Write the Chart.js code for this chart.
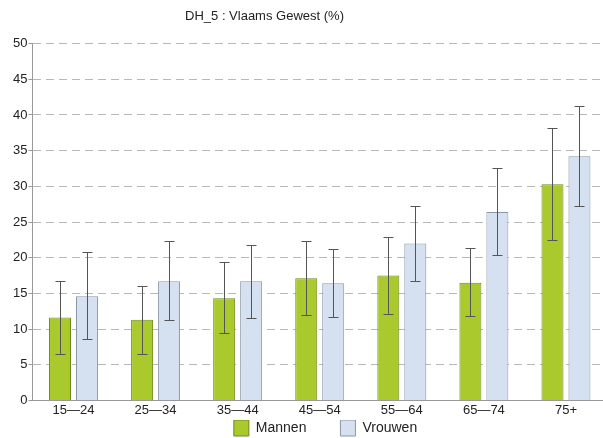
<!DOCTYPE html>
<html>
<head>
<meta charset="utf-8">
<script src="https://cdn.jsdelivr.net/npm/chart.js@4"></script>
<style>
  html, body { margin: 0; padding: 0; background: #fff; }
  #wrap { width: 603px; height: 438px; }
</style>
</head>
<body>
<div id="wrap"><canvas id="dhChart" width="603" height="438"></canvas></div>
<script>
// ===== DATA =====
const ageGroups = ['15\u201424', '25\u201434', '35\u201444', '45\u201454', '55\u201464', '65\u201474', '75+'];
const mannen = [11.6, 11.3, 14.3, 17.1, 17.5, 16.5, 30.3];
const mannenLow = [6.5, 6.5, 9.4, 11.9, 12.1, 11.8, 22.5];
const mannenHigh = [16.7, 16.1, 19.4, 22.3, 22.9, 21.4, 38.2];
const vrouwen = [14.6, 16.7, 16.7, 16.4, 22.0, 26.4, 34.2];
const vrouwenLow = [8.6, 11.2, 11.6, 11.7, 16.7, 20.4, 27.3];
const vrouwenHigh = [20.8, 22.3, 21.8, 21.2, 27.2, 32.5, 41.2];
const yTicks = [0, 5, 10, 15, 20, 25, 30, 35, 40, 45, 50];

const LEGEND_GAP = 34;

// ===== ERROR BARS =====
const errorBars = {
  id: 'errorBars',
  afterDatasetsDraw(chart) {
    const ctx = chart.ctx;
    const y = chart.scales.y;
    chart.data.datasets.forEach((ds, i) => {
      const meta = chart.getDatasetMeta(i);
      meta.data.forEach((bar, j) => {
        const top = Math.round(y.getPixelForValue(ds.high[j])) + 0.5;
        const bot = Math.round(y.getPixelForValue(ds.low[j])) + 0.5;
        const x = Math.round(bar.x) + 0.5;
        ctx.save();
        ctx.strokeStyle = '#555';
        ctx.lineWidth = 1;
        ctx.beginPath();
        ctx.moveTo(x, top); ctx.lineTo(x, bot);
        ctx.moveTo(x - 5, top); ctx.lineTo(x + 5, top);
        ctx.moveTo(x - 5, bot); ctx.lineTo(x + 5, bot);
        ctx.stroke();
        ctx.restore();
      });
    });
  }
};

// title sits left of centre, legend a bit right; plot runs a little past the right edge
const nudgeBlocks = {
  id: 'nudgeBlocks',
  afterLayout(chart) {
    const t = chart.titleBlock;
    if (t) { t.left -= 43; t.right -= 43; }
    const l = chart.legend;
    if (l) { l.left += 18; l.right += 18; }
    const x = chart.scales.x;
    x.right += 4;
    x.width += 4;
    chart.chartArea.right += 4;
    chart.chartArea.width += 4;
    x.configure();
  }
};

// ===== CHART =====
const chartCtx = document.getElementById('dhChart');
new Chart(chartCtx, {
  type: 'bar',
  data: {
    labels: ageGroups,
    datasets: [{
      label: 'Mannen',
      data: mannen,
      low: mannenLow,
      high: mannenHigh,
      backgroundColor: '#a9c92c',
      borderColor: '#6f8a1c',
      borderWidth: 1
    }, {
      label: 'Vrouwen',
      data: vrouwen,
      low: vrouwenLow,
      high: vrouwenHigh,
      backgroundColor: '#d5e1f1',
      borderColor: '#8a97a6',
      borderWidth: 1
    }]
  },
  options: {
    responsive: false,
    animation: false,
    categoryPercentage: 0.657,
    barPercentage: 0.815,
    layout: { padding: { left: 12, right: 0, top: 0, bottom: -8 } },
    scales: {
      x: {
        grid: { display: false, drawTicks: false },
        border: { display: true, color: '#999' },
        ticks: { color: '#222', font: { family: 'Liberation Sans', size: 13 }, padding: 2 }
      },
      y: {
        min: 0,
        max: 50,
        afterBuildTicks: (axis) => { axis.ticks = yTicks.map(v => ({ value: v })); },
        grid: { color: '#b8b8b8', tickColor: '#999', tickLength: 4, tickBorderDash: [] },
        border: { display: true, color: '#999', dash: [8, 5] },
        ticks: { color: '#222', font: { family: 'Liberation Sans', size: 13 }, padding: 1 }
      }
    },
    plugins: {
      title: {
        display: true,
        text: 'DH_5 : Vlaams Gewest (%)',
        color: '#222',
        font: { family: 'Liberation Sans', size: 13, weight: 'normal' },
        padding: { top: 9, bottom: 19 }
      },
      legend: {
        position: 'bottom',
        title: {
          display: true,
          text: '',
          font: { size: 10, lineHeight: 1 },
          padding: { top: -(LEGEND_GAP + 10), bottom: 0 }
        },
        labels: {
          boxWidth: 15,
          boxHeight: 16,
          color: '#222',
          font: { family: 'Liberation Sans', size: 14 },
          padding: LEGEND_GAP
        }
      },
      tooltip: { enabled: false }
    }
  },
  plugins: [errorBars, nudgeBlocks]
});
</script>
</body>
</html>
